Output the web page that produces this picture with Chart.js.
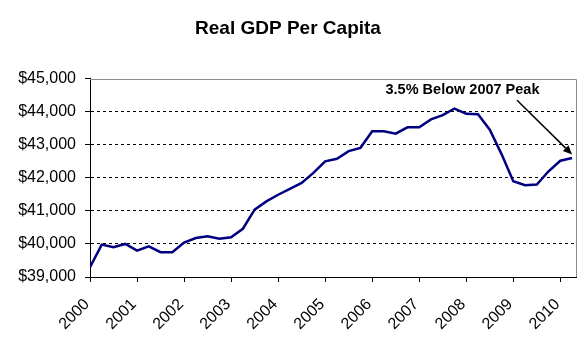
<!DOCTYPE html>
<html>
<head>
<meta charset="utf-8">
<title>Real GDP Per Capita</title>
<script src="https://cdn.jsdelivr.net/npm/chart.js@4.4.1/dist/chart.umd.min.js"></script>
<style>
  html, body { margin: 0; padding: 0; background: #fff; }
  #wrap { width: 584px; height: 339px; }
</style>
</head>
<body>
<div id="wrap"><canvas id="gdpChart" width="584" height="339"></canvas></div>
<script>
// Quarterly real GDP per capita, 2000 Q1 - 2010 Q2
const quarters = [
  "2000 Q1", "2000 Q2", "2000 Q3", "2000 Q4",
  "2001 Q1", "2001 Q2", "2001 Q3", "2001 Q4",
  "2002 Q1", "2002 Q2", "2002 Q3", "2002 Q4",
  "2003 Q1", "2003 Q2", "2003 Q3", "2003 Q4",
  "2004 Q1", "2004 Q2", "2004 Q3", "2004 Q4",
  "2005 Q1", "2005 Q2", "2005 Q3", "2005 Q4",
  "2006 Q1", "2006 Q2", "2006 Q3", "2006 Q4",
  "2007 Q1", "2007 Q2", "2007 Q3", "2007 Q4",
  "2008 Q1", "2008 Q2", "2008 Q3", "2008 Q4",
  "2009 Q1", "2009 Q2", "2009 Q3", "2009 Q4",
  "2010 Q1", "2010 Q2"
];
const gdpPerCapita = [
  39300, 39980, 39900, 40000,
  39800, 39930, 39750, 39750,
  40040, 40180, 40230, 40160,
  40200, 40460, 41040, 41290,
  41490, 41670, 41850, 42150,
  42500, 42580, 42810, 42910,
  43410, 43410, 43340, 43530,
  43530, 43770, 43900, 44100,
  43940, 43930, 43460, 42720,
  41900, 41780, 41800, 42200,
  42520, 42600
];
const yearTicks = [2000, 2001, 2002, 2003, 2004, 2005, 2006, 2007, 2008, 2009, 2010];
const yTicks = [39000, 40000, 41000, 42000, 43000, 44000, 45000];

// note text and where it sits / points to (in data units)
const noteText = "3.5% Below 2007 Peak";
const noteAt = [2007.92, 44660];
const arrowFrom = [2009.08, 44350];
const arrowTo = [2010.25, 42710];

const FONT = '"Liberation Sans", Arial, sans-serif';

// "2003 Q2" -> 2003.25
function quarterToYear(q) {
  const parts = q.split(" Q");
  return Number(parts[0]) + (Number(parts[1]) - 1) / 4;
}

const points = quarters.map((q, i) => ({ x: quarterToYear(q), y: gdpPerCapita[i] }));

// gray frame on the top and right of the plot area
const plotFrame = {
  id: "plotFrame",
  beforeDatasetsDraw(chart) {
    const { ctx, chartArea: a } = chart;
    ctx.save();
    ctx.strokeStyle = "#8c8c8c";
    ctx.lineWidth = 1;
    ctx.beginPath();
    ctx.moveTo(Math.round(a.left), Math.round(a.top) + 0.5);
    ctx.lineTo(Math.round(a.right) + 0.5, Math.round(a.top) + 0.5);
    ctx.lineTo(Math.round(a.right) + 0.5, Math.round(a.bottom));
    ctx.stroke();
    ctx.restore();
  }
};

// text callout with an arrow to the latest quarter
const peakNote = {
  id: "peakNote",
  afterDatasetsDraw(chart) {
    const { ctx } = chart;
    const x = chart.scales.x, y = chart.scales.y;
    ctx.save();
    ctx.fillStyle = "#000";
    ctx.font = "bold 14.5px " + FONT;
    ctx.textAlign = "center";
    ctx.textBaseline = "middle";
    ctx.fillText(noteText, x.getPixelForValue(noteAt[0]), y.getPixelForValue(noteAt[1]));

    const x1 = x.getPixelForValue(arrowFrom[0]), y1 = y.getPixelForValue(arrowFrom[1]);
    const x2 = x.getPixelForValue(arrowTo[0]), y2 = y.getPixelForValue(arrowTo[1]);
    const ang = Math.atan2(y2 - y1, x2 - x1);
    const head = 9, half = 4;
    const bx = x2 - head * Math.cos(ang), by = y2 - head * Math.sin(ang);
    ctx.strokeStyle = "#000";
    ctx.lineWidth = 1.5;
    ctx.beginPath();
    ctx.moveTo(x1, y1);
    ctx.lineTo(bx, by);
    ctx.stroke();
    ctx.beginPath();
    ctx.moveTo(x2, y2);
    ctx.lineTo(bx + half * Math.sin(ang), by - half * Math.cos(ang));
    ctx.lineTo(bx - half * Math.sin(ang), by + half * Math.cos(ang));
    ctx.closePath();
    ctx.fill();
    ctx.restore();
  }
};

const ctx = document.getElementById("gdpChart").getContext("2d");
new Chart(ctx, {
  type: "line",
  data: {
    datasets: [{
      label: "Real GDP Per Capita",
      data: points,
      borderColor: "#000080",
      borderWidth: 2.5,
      pointRadius: 0,
      tension: 0,
      fill: false
    }]
  },
  options: {
    responsive: false,
    animation: false,
    layout: { padding: { left: 0, right: 8, top: 0, bottom: 0 } },
    scales: {
      x: {
        type: "linear",
        min: 2000,
        max: 2010 + 4 / 12,
        afterBuildTicks(scale) {
          scale.ticks = yearTicks.map(v => ({ value: v }));
        },
        afterFit(scale) {
          // rotated labels hang left of their ticks; keep the plot edges fixed
          scale.height = 62;
          scale.paddingLeft = 0;
          scale.paddingRight = 0;
        },
        grid: {
          drawOnChartArea: false,
          drawTicks: true,
          tickLength: 5,
          tickColor: "#000"
        },
        border: { color: "#000", width: 1 },
        ticks: {
          autoSkip: false,
          minRotation: 45,
          maxRotation: 45,
          padding: 13,
          labelOffset: -3,
          color: "#000",
          font: { family: FONT, size: 16 },
          callback: v => String(v)
        }
      },
      y: {
        min: 39000,
        max: 45000,
        afterBuildTicks(scale) {
          scale.ticks = yTicks.map(v => ({ value: v }));
        },
        afterFit(scale) { scale.width = 90; },
        grid: {
          color: c => (c.tick && (c.tick.value === 45000 || c.tick.value === 39000)) ? "rgba(0,0,0,0)" : "#000",
          lineWidth: 1,
          drawTicks: true,
          tickLength: 5,
          tickColor: "#000"
        },
        border: { color: "#000", width: 1, dash: [3, 3] },
        ticks: {
          padding: 9,
          color: "#000",
          font: { family: FONT, size: 16 },
          callback: v => "$" + v.toLocaleString("en-US")
        }
      }
    },
    plugins: {
      legend: { display: false },
      tooltip: { enabled: false },
      title: {
        display: true,
        text: "Real GDP Per Capita",
        color: "#000",
        font: { family: FONT, size: 19, weight: "bold" },
        padding: { top: 17, bottom: 39 }
      }
    }
  },
  plugins: [plotFrame, peakNote]
});
</script>
</body>
</html>
